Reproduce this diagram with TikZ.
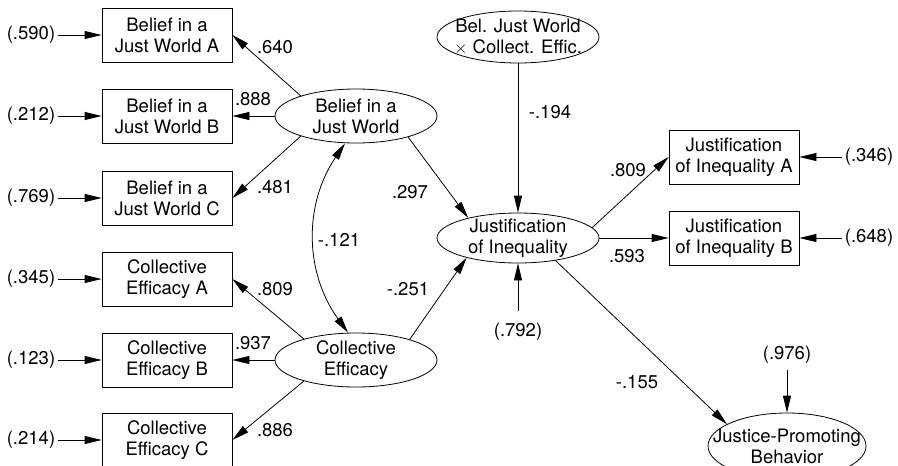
\documentclass[tikz,border=0pt]{standalone}
\usepackage{fontspec}
\setmainfont{TeX Gyre Heros}
\usetikzlibrary{shapes.geometric,arrows.meta}
\tikzstyle{indicator}=[rectangle,draw,line width=0.8pt,minimum width=130pt,minimum height=54pt,inner sep=0pt,align=center]
\tikzstyle{latent}=[ellipse,draw,line width=0.8pt,minimum width=162pt,minimum height=54pt,inner xsep=-30pt,inner ysep=-12pt,align=center]
\tikzstyle{link}=[draw,line width=0.8pt,-{Triangle[length=17pt,width=8pt]}]
\tikzstyle{dlink}=[draw,line width=0.8pt,{Triangle[length=17pt,width=8pt]}-{Triangle[length=17pt,width=8pt]}]
\tikzstyle{error}=[inner sep=3pt]

\begin{document}
\begin{tikzpicture}[x=1pt,y=-1pt,font=\fontsize{18.5}{21}\selectfont]
    \useasboundingbox (0,0) rectangle (898,466);
    % indicateurs
    \foreach \pos/\name/\txt in {{(167,35)/bjwa/Belief in a\\Just World A}, {(167,116)/bjwb/Belief in a\\Just World B}, {(167,198)/bjwc/Belief in a\\Just World C}, {(167,279)/cea/Collective\\Efficacy A}, {(167,360)/ceb/Collective\\Efficacy B}, {(167,440)/cec/Collective\\Efficacy C}, {(734,157)/jia/Justification\\of Inequality A}, {(734,238)/jib/Justification\\of Inequality B}}
        \node[indicator] (\name) at \pos {\txt};
    % latentes
    \node[latent] (bjw) at (356,116) {Belief in a\\Just World};
    \node[latent] (ce) at (356,360) {Collective\\Efficacy};
    \node[latent,minimum height=52pt] (inter) at (518,37) {Bel. Just World\\$\times$ Collect. Effic.};
    \node[latent,minimum height=50pt] (jus) at (518,238) {Justification\\of Inequality};
    \node[latent,minimum width=158pt,minimum height=66pt] (jpb) at (787,446) {Justice-Promoting\\Behavior};
    % erreurs
    \foreach \pos/\name/\val in {{(31,35)/e1/.590}, {(31,116)/e2/.212}, {(31,198)/e3/.769}, {(31,279)/e4/.345}, {(31,360)/e5/.123}, {(31,440)/e6/.214}, {(869,157)/e7/.346}, {(869,238)/e8/.648}, {(518,332)/e9/.792}, {(787,355)/e10/.976}}
        \node[error] (\name) at \pos {(\val)};
    \foreach \source/\dest in {e1/bjwa, e2/bjwb, e3/bjwc, e4/cea, e5/ceb, e6/cec, e7/jia, e8/jib}
        \path[link] (\source) -- (\dest);
    \path[link,shorten <=9pt] (e9) -- (jus);
    \path[link,shorten <=3pt] (e10) -- (jpb);
    % chemins
    \foreach \source/\dest in {bjw.160/bjwa.east, bjw.west/bjwb.east, bjw.200/bjwc.east, ce.158/cea.east, ce.west/ceb.east, ce.202/cec.east, bjw.-22/jus.158, ce.21/jus.201, inter/jus, jus.8/jia.west, jus.east/jib.west, jus.-31/jpb.160}
        \path[link] (\source) -- (\dest);
    \path[dlink] ([xshift=-11pt]bjw.south) to[bend right=35] ([xshift=-8pt]ce.north);
    % coefficients
    \foreach \pos/\name/\val in {{(275,47)/w1/.640}, {(253,99)/w2/.888}, {(275,187)/w3/.481}, {(410,192)/w4/.297}, {(339,240)/w5/-.121}, {(275,289)/w6/.809}, {(253,343)/w7/.937}, {(275,430)/w8/.886}, {(408,289)/w9/-.251}, {(550,112)/w10/-.194}, {(628,170)/w11/.809}, {(627,256)/w12/.593}, {(637,382)/w13/-.155}}
        \node (\name) at \pos {\val};
\end{tikzpicture}
\end{document}
